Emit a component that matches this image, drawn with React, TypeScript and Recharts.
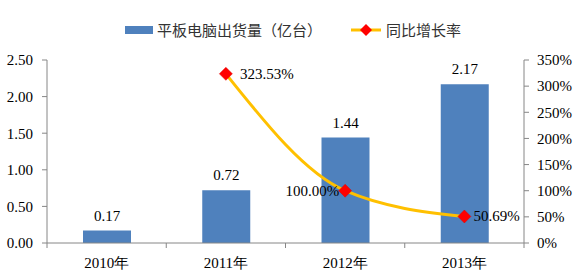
import React from "react";
import {
  ComposedChart,
  Bar,
  Line,
  XAxis,
  YAxis,
  LabelList,
} from "recharts";

const years = ["2010年", "2011年", "2012年", "2013年"];
const shipments = [0.17, 0.72, 1.44, 2.17];
const growth: (number | null)[] = [null, 323.53, 100.0, 50.69];
const leftTicks = [0, 0.5, 1, 1.5, 2, 2.5];
const rightTicks = [0, 50, 100, 150, 200, 250, 300, 350];

const BAR_COLOR = "#4F81BD";
const LINE_COLOR = "#FFC000";
const MARK_COLOR = "#FF0000";
const AXIS_COLOR = "#868686";
const SERIF = "'Liberation Serif', 'Times New Roman', serif";
const CJK = "'Noto Sans CJK SC', sans-serif";

const data = years.map((year, i) => ({
  year,
  shipments: shipments[i],
  growth: growth[i],
}));

function Diamond(props: any) {
  const { cx, cy, value, index } = props;
  if (value == null || cx == null || cy == null) return <g key={`d-${index}`} />;
  const r = 6.5;
  return (
    <polygon
      key={`d-${index}`}
      points={`${cx},${cy - r} ${cx + r},${cy} ${cx},${cy + r} ${cx - r},${cy}`}
      fill={MARK_COLOR}
      stroke="#E00000"
      strokeWidth={0.5}
    />
  );
}

function XTick(props: any) {
  const { x, y, payload } = props;
  const half = payload?.offset ?? 59.6;
  const last = payload?.index === years.length - 1;
  return (
    <g>
      <line x1={x - half} y1={y} x2={x - half} y2={y + 5} stroke={AXIS_COLOR} />
      {last && <line x1={x + half} y1={y} x2={x + half} y2={y + 5} stroke={AXIS_COLOR} />}
      <text
        x={x}
        y={y + 20}
        textAnchor="middle"
        dominantBaseline="central"
        fontSize={15}
        fontFamily={SERIF}
        fill="#000"
      >
        {payload.value}
      </text>
    </g>
  );
}

function GrowthLabel(props: any) {
  const { x, y, value, index } = props;
  if (value == null) return null;
  const left = index === 2;
  const dx = index === 1 ? 14 : left ? -6 : 9;
  return (
    <text
      x={x + dx}
      y={y}
      textAnchor={left ? "end" : "start"}
      dominantBaseline="central"
      fontSize={15}
      fontFamily={SERIF}
      fill="#000"
    >
      {value.toFixed(2)}%
    </text>
  );
}

function ChartLegend() {
  return (
    <div
      style={{
        position: "absolute",
        top: 20,
        left: 0,
        width: 580,
        height: 20,
        fontFamily: CJK,
        fontSize: 15,
        color: "#333",
      }}
    >
      <div style={{ position: "absolute", left: 125, top: 6, width: 28, height: 8, background: BAR_COLOR }} />
      <span style={{ position: "absolute", left: 157, top: 0, lineHeight: "20px", whiteSpace: "nowrap" }}>
        平板电脑出货量（亿台）
      </span>
      <svg style={{ position: "absolute", left: 350, top: 0 }} width={32} height={20}>
        <line x1={1} y1={10} x2={31} y2={10} stroke={LINE_COLOR} strokeWidth={3} />
        <polygon points="16,4 22,10 16,16 10,10" fill={MARK_COLOR} />
      </svg>
      <span style={{ position: "absolute", left: 386, top: 0, lineHeight: "20px", whiteSpace: "nowrap" }}>
        同比增长率
      </span>
    </div>
  );
}

export default function App() {
  return (
    <div style={{ position: "absolute", left: 0, top: 0, width: 580, height: 273, background: "#fff" }}>
      <ChartLegend />
      <ComposedChart
        width={580}
        height={273}
        data={data}
        margin={{ top: 60, right: 0, bottom: 0, left: 0 }}
      >
        <XAxis
          dataKey="year"
          height={30}
          axisLine={{ stroke: AXIS_COLOR }}
          tickLine={false}
          tickSize={0}
          tickMargin={0}
          tick={<XTick />}
          interval={0}
        />
        <YAxis
          yAxisId="left"
          width={47}
          domain={[0, 2.5]}
          ticks={leftTicks}
          tickFormatter={(v: number) => v.toFixed(2)}
          axisLine={{ stroke: AXIS_COLOR }}
          tickLine={{ stroke: AXIS_COLOR }}
          tickSize={5}
          tickMargin={9}
          tick={{ fontSize: 15, fontFamily: SERIF, fill: "#000" }}
        />
        <YAxis
          yAxisId="right"
          orientation="right"
          width={56}
          domain={[0, 350]}
          ticks={rightTicks}
          tickFormatter={(v: number) => `${v}%`}
          axisLine={{ stroke: AXIS_COLOR }}
          tickLine={{ stroke: AXIS_COLOR }}
          tickSize={5}
          tickMargin={8}
          tick={{ fontSize: 15, fontFamily: SERIF, fill: "#000", textAnchor: "start" }}
        />
        <Bar yAxisId="left" dataKey="shipments" fill={BAR_COLOR} barSize={48} isAnimationActive={false}>
          <LabelList
            dataKey="shipments"
            position="top"
            offset={10}
            formatter={(v: number) => v.toFixed(2)}
            style={{ fontSize: 15, fontFamily: SERIF, fill: "#000" }}
          />
        </Bar>
        <Line
          yAxisId="right"
          type="monotone"
          dataKey="growth"
          stroke={LINE_COLOR}
          strokeWidth={3}
          dot={<Diamond />}
          activeDot={false}
          connectNulls
          isAnimationActive={false}
        >
          <LabelList dataKey="growth" content={<GrowthLabel />} />
        </Line>
      </ComposedChart>
    </div>
  );
}
